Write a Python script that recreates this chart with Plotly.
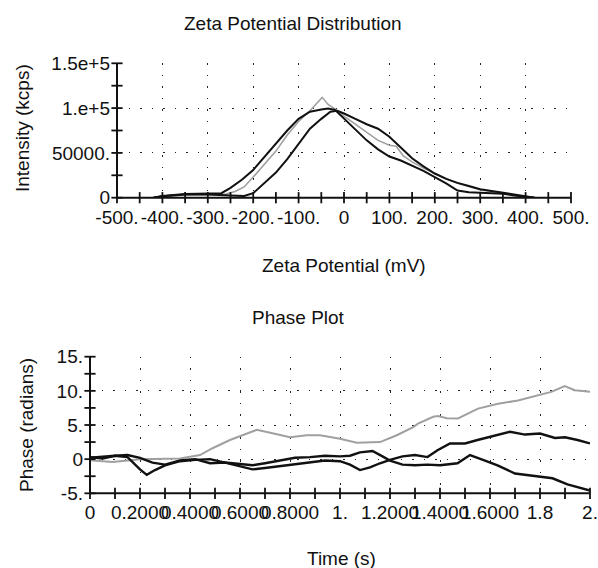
import plotly.graph_objects as go

# ---------------- Data: Zeta potential distribution ----------------
zeta_a_x = [-420, -400, -350, -300, -270, -250, -225, -200, -175, -150, -125, -100, -75, -50, -35, -20,
            0, 25, 50, 75, 100, 125, 150, 175, 200, 225, 250, 275, 300, 325, 350, 375, 400, 420]
zeta_a_y = [0, 2000, 4000, 4200, 5000, 11000, 20000, 31000, 46000, 60000, 75000, 88000, 96000, 98500, 99500, 98000,
            88000, 76000, 64000, 54000, 46000, 41500, 36000, 30000, 23000, 16000, 8000, 6000, 5500, 5000, 4500, 2500, 800, 0]

zeta_b_x = [-420, -400, -350, -300, -250, -220, -200, -180, -150, -125, -100, -75, -50, -30, -15,
            0, 25, 50, 75, 100, 125, 150, 175, 200, 225, 250, 275, 300, 325, 350, 375, 400, 420]
zeta_b_y = [0, 1500, 3500, 3500, 2500, 2000, 5000, 14000, 28000, 43000, 60000, 77000, 88000, 96000, 97000,
            94000, 88000, 82000, 77000, 68000, 56000, 44000, 35000, 27000, 21000, 16500, 13000, 9500, 7500, 5600, 3800, 1800, 0]

zeta_g_x = [-420, -400, -350, -300, -260, -240, -220, -200, -175, -150, -125, -100, -75, -60, -48, -35, -20,
            0, 25, 50, 75, 100, 115, 130, 150, 175, 200, 250, 300, 350, 400, 420]
zeta_g_y = [0, 1500, 3000, 3500, 4000, 7000, 12000, 23000, 37000, 52000, 70000, 85000, 97000, 105000, 112000, 104000, 99000,
            91000, 82000, 73000, 64000, 58500, 57500, 47000, 40000, 33000, 27000, 16000, 9000, 5000, 1500, 0]

zeta_tickvals = [-500, -400, -300, -200, -100, 0, 100, 200, 300, 400, 500]
zeta_ticktext = ["-500.", "-400.", "-300.", "-200.", "-100.", "0", "100.", "200.", "300.", "400.", "500."]
int_tickvals = [0, 50000, 100000, 150000]
int_ticktext = ["0", "50000.", "1.e+5", "1.5e+5"]

# ---------------- Data: Phase plot ----------------
phase_x_t = [0, 0.05, 0.1, 0.15, 0.2, 0.227, 0.26, 0.3, 0.36, 0.42, 0.48, 0.54, 0.6, 0.65, 0.7, 0.76, 0.82, 0.88,
             0.94, 1.0, 1.04, 1.08, 1.12, 1.16, 1.2, 1.25, 1.3, 1.35, 1.39, 1.44, 1.5, 1.55, 1.6, 1.68, 1.74, 1.8,
             1.86, 1.9, 1.95, 2.0]
phase_x_v = [0.2, 0.4, 0.5, 0.3, -1.5, -2.3, -1.6, -0.9, -0.3, -0.1, 0, -0.5, -1.0, -1.5, -1.3, -1.0, -0.7, -0.4,
             -0.2, -0.3, -0.8, -1.6, -1.2, -0.6, -0.1, 0.4, 0.6, 0.3, 1.3, 2.3, 2.3, 2.8, 3.3, 4.0, 3.6, 3.75,
             3.1, 3.2, 2.8, 2.3]

phase_y_t = [0, 0.05, 0.1, 0.15, 0.2, 0.25, 0.3, 0.36, 0.42, 0.48, 0.54, 0.6, 0.65, 0.7, 0.76, 0.82, 0.88, 0.94,
             1.0, 1.04, 1.08, 1.13, 1.17, 1.2, 1.25, 1.3, 1.35, 1.4, 1.47, 1.52, 1.58, 1.63, 1.7, 1.74, 1.8, 1.85,
             1.91, 1.95, 2.0]
phase_y_v = [0.3, 0.1, 0.5, 0.6, 0.2, -0.5, -0.8, -0.2, 0, -0.6, -0.5, -0.7, -0.9, -0.6, -0.2, 0.2, 0.3, 0.5,
             0.4, 0.5, 1.0, 1.2, 0.4, -0.2, -0.8, -0.9, -0.8, -0.9, -0.6, 0.6, -0.2, -0.9, -2.1, -2.3, -2.6, -2.8,
             -3.7, -4.1, -4.6]

phase_g_t = [0, 0.09, 0.2, 0.36, 0.44, 0.49, 0.56, 0.63, 0.667, 0.73, 0.8, 0.867, 0.92, 1.0, 1.067, 1.16, 1.227,
             1.293, 1.312, 1.373, 1.392, 1.427, 1.472, 1.552, 1.632, 1.712, 1.792, 1.845, 1.899, 1.939, 2.0]
phase_g_v = [-0.15, -0.4, 0, 0.1, 0.6, 1.6, 2.8, 3.8, 4.3, 3.8, 3.2, 3.5, 3.5, 3.0, 2.4, 2.5, 3.5,
             4.7, 5.2, 6.2, 6.3, 6.0, 5.95, 7.4, 8.1, 8.6, 9.4, 9.85, 10.7, 10.1, 9.85]

time_tickvals = [0, 0.2, 0.4, 0.6, 0.8, 1.0, 1.2, 1.4, 1.6, 1.8, 2.0]
time_ticktext = ["0", "0.2000", "0.4000", "0.6000", "0.8000", "1.", "1.2000", "1.4000", "1.6000", "1.8", "2."]
phase_tickvals = [-5, 0, 5, 10, 15]
phase_ticktext = ["-5.", "0", "5.", "10.", "15."]

# minor tick marks (crossing the axis lines)
zeta_minor = [v for v in range(-500, 501, 50)]
int_minor = [v for v in range(0, 150001, 25000)]
time_minor = [i / 10 for i in range(0, 21)]
phase_minor = [-5 + 2.5 * i for i in range(9)]

W, H = 598, 568
FONT = "Arial, Liberation Sans, sans-serif"
BLACK = "#111111"
GRAY = "#a0a0a0"

fig = go.Figure()

# top chart traces
fig.add_trace(go.Scatter(x=zeta_g_x, y=zeta_g_y, mode="lines", line=dict(color=GRAY, width=1.6),
                         xaxis="x", yaxis="y", showlegend=False))
fig.add_trace(go.Scatter(x=zeta_a_x, y=zeta_a_y, mode="lines", line=dict(color=BLACK, width=2),
                         xaxis="x", yaxis="y", showlegend=False))
fig.add_trace(go.Scatter(x=zeta_b_x, y=zeta_b_y, mode="lines", line=dict(color=BLACK, width=2),
                         xaxis="x", yaxis="y", showlegend=False))
# tick marks top
fig.add_trace(go.Scatter(x=zeta_minor, y=[0] * len(zeta_minor), mode="markers", cliponaxis=False,
                         marker=dict(symbol="line-ns", size=8, line=dict(color=BLACK, width=1.8)),
                         xaxis="x", yaxis="y", showlegend=False, hoverinfo="skip"))
fig.add_trace(go.Scatter(x=[-500] * len(int_minor), y=int_minor, mode="markers", cliponaxis=False,
                         marker=dict(symbol="line-ew", size=8, line=dict(color=BLACK, width=1.8)),
                         xaxis="x", yaxis="y", showlegend=False, hoverinfo="skip"))

# bottom chart traces
fig.add_trace(go.Scatter(x=phase_g_t, y=phase_g_v, mode="lines", line=dict(color=GRAY, width=2),
                         xaxis="x2", yaxis="y2", showlegend=False))
fig.add_trace(go.Scatter(x=phase_x_t, y=phase_x_v, mode="lines", line=dict(color=BLACK, width=2.4),
                         xaxis="x2", yaxis="y2", showlegend=False))
fig.add_trace(go.Scatter(x=phase_y_t, y=phase_y_v, mode="lines", line=dict(color=BLACK, width=2.4),
                         xaxis="x2", yaxis="y2", showlegend=False))
fig.add_trace(go.Scatter(x=time_minor, y=[-5] * len(time_minor), mode="markers", cliponaxis=False,
                         marker=dict(symbol="line-ns", size=8, line=dict(color=BLACK, width=1.8)),
                         xaxis="x2", yaxis="y2", showlegend=False, hoverinfo="skip"))
fig.add_trace(go.Scatter(x=[0] * len(phase_minor), y=phase_minor, mode="markers", cliponaxis=False,
                         marker=dict(symbol="line-ew", size=8, line=dict(color=BLACK, width=1.8)),
                         xaxis="x2", yaxis="y2", showlegend=False, hoverinfo="skip"))

def px_x(p):
    return p / W

def px_y(p):
    return 1 - p / H

grid_common = dict(showgrid=True, gridcolor="#222222", gridwidth=1.3, griddash="1.5px,10px",
                   showline=False, zeroline=False, ticks="", ticklabelstandoff=6, tickangle=0,
                   automargin=False,
                   tickfont=dict(family=FONT, size=19, color="#111111"), fixedrange=True)

fig.update_layout(
    width=W, height=H, margin=dict(l=0, r=0, t=0, b=0, autoexpand=False),
    paper_bgcolor="white", plot_bgcolor="white",
    xaxis=dict(domain=[px_x(117), px_x(571)], range=[-500, 500], anchor="y",
               tickmode="array", tickvals=zeta_tickvals, ticktext=zeta_ticktext, **grid_common),
    yaxis=dict(domain=[px_y(197.7), px_y(63.3)], range=[0, 150000], anchor="x",
               tickmode="array", tickvals=int_tickvals, ticktext=int_ticktext, **grid_common),
    xaxis2=dict(domain=[px_x(90), px_x(590)], range=[0, 2], anchor="y2",
                tickmode="array", tickvals=time_tickvals, ticktext=time_ticktext, **grid_common),
    yaxis2=dict(domain=[px_y(493.3), px_y(356.7)], range=[-5, 15], anchor="x2",
                tickmode="array", tickvals=phase_tickvals, ticktext=phase_ticktext, **grid_common),
)

# solid axis lines (left and bottom) as shapes tied to axis domains
for xr, yr in (("x", "y"), ("x2", "y2")):
    fig.add_shape(type="line", xref=xr + " domain", yref=yr + " domain", x0=0, x1=1, y0=0, y1=0,
                  line=dict(color=BLACK, width=2))
    fig.add_shape(type="line", xref=xr + " domain", yref=yr + " domain", x0=0, x1=0, y0=0, y1=1,
                  line=dict(color=BLACK, width=2))

def label(text, x, y, angle=0, size=19):
    fig.add_annotation(text=text, x=px_x(x), y=px_y(y), xref="paper", yref="paper",
                       showarrow=False, textangle=angle, xanchor="center", yanchor="middle",
                       font=dict(family=FONT, size=size, color="#111111"))

label("Zeta Potential Distribution", 292.5, 23)
label("Zeta Potential (mV)", 343.5, 265)
label("Intensity (kcps)", 22, 128, angle=-90)
label("Phase Plot", 298.5, 317)
label("Time (s)", 341, 558)
label("Phase (radians)", 27, 425, angle=-90)

fig.write_html("out.html", config={"displayModeBar": False},
               post_script="document.body.style.margin='0';document.body.style.overflow='hidden';")
